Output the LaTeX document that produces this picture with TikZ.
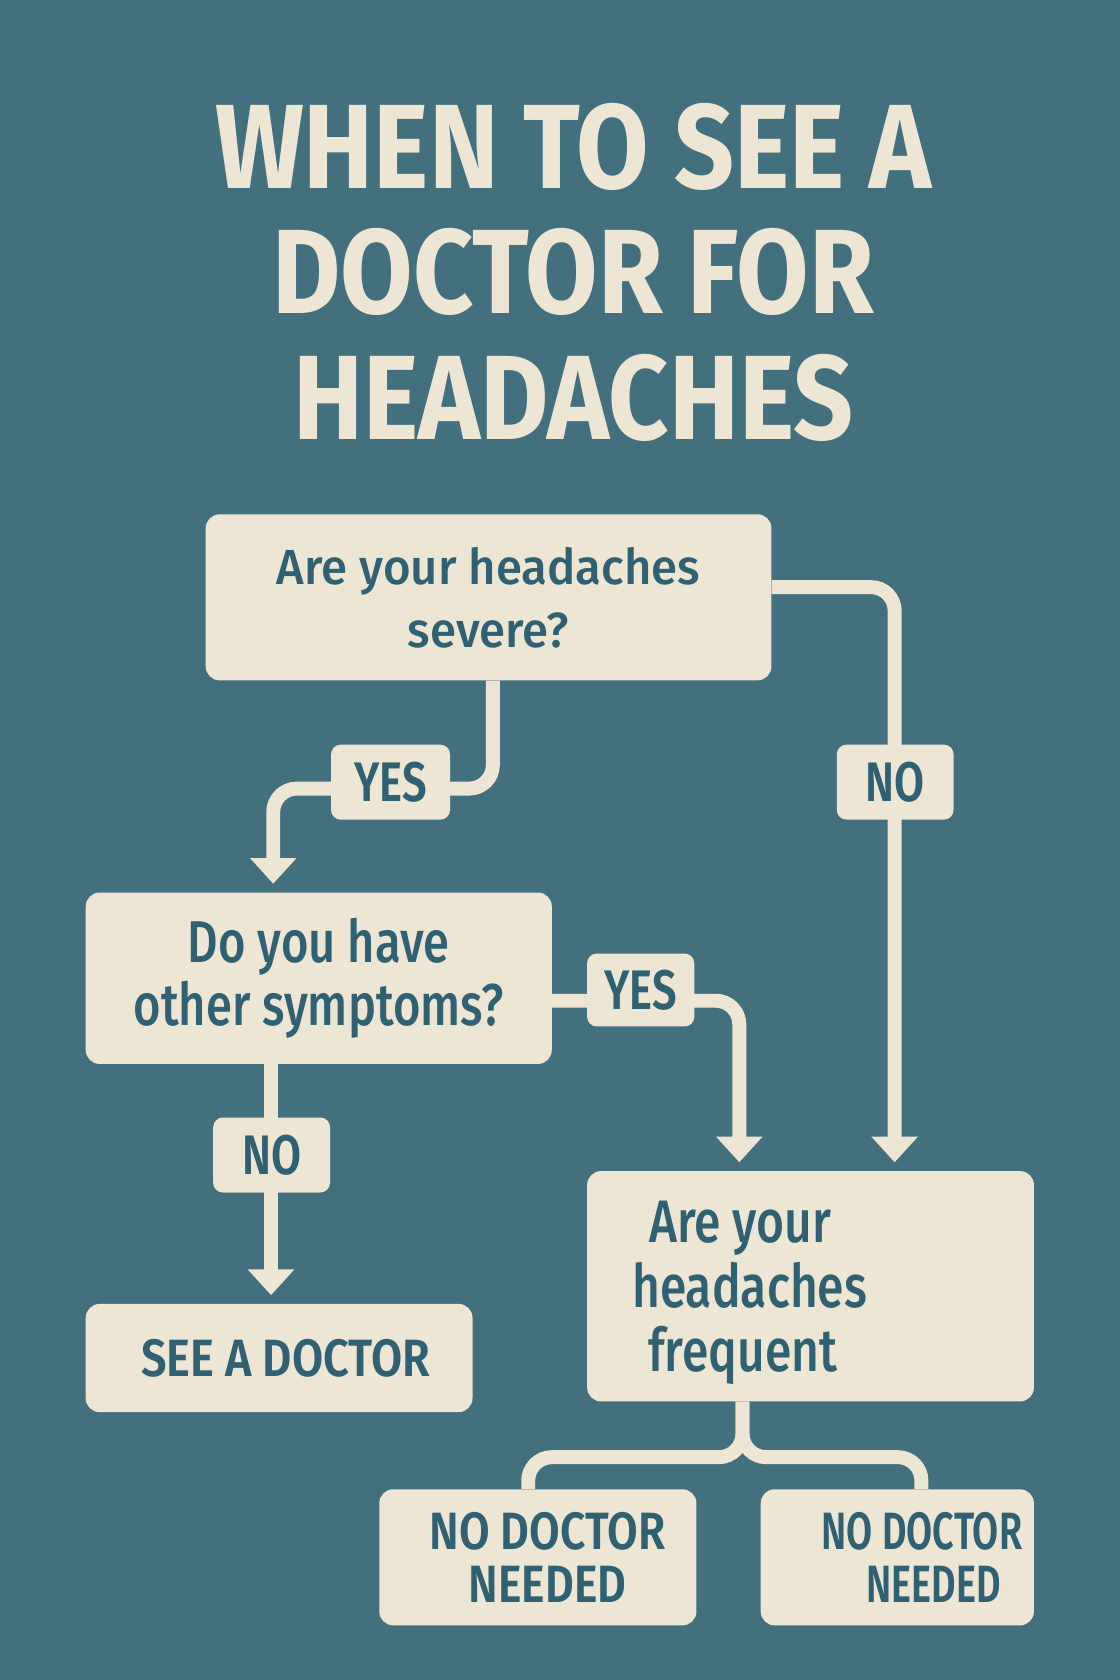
\documentclass[tikz,border=0pt]{standalone}
\usepackage{fontspec}
\usetikzlibrary{arrows.meta}
\setmainfont{Fira Sans}
\newfontfamily\titlef[FakeStretch=0.875]{Fira Sans Bold}
\newfontfamily\bodyaf[FakeStretch=0.96]{Fira Sans Medium}
\newfontfamily\bodyf[FakeStretch=0.80]{Fira Sans Medium}
\newfontfamily\labf[FakeStretch=0.78]{Fira Sans SemiBold}
\newfontfamily\seef[FakeStretch=0.86]{Fira Sans SemiBold}
\newfontfamily\ndaf[FakeStretch=0.845]{Fira Sans SemiBold}
\newfontfamily\ndbf[FakeStretch=0.72]{Fira Sans SemiBold}
\definecolor{bg}{HTML}{42707F}
\definecolor{cream}{HTML}{EEE6D4}
\definecolor{ink}{HTML}{2F6172}
\begin{document}
\begin{tikzpicture}[x=1pt,y=-1pt,
  box/.style={fill=cream, rounded corners=13pt, inner sep=0pt, text=ink, align=center},
  tag/.style={fill=cream, rounded corners=9pt, inner sep=0pt, text=ink,
    font=\labf\fontsize{52}{52}\selectfont},
  conn/.style={draw=cream, line width=13pt, rounded corners=22pt},
  arr/.style={-{Triangle[width=42pt,length=24pt]}}
]
\fill[bg] (0,0) rectangle (1045,1568);
\useasboundingbox (0,0) rectangle (1045,1568);

\node[text=cream, align=center, font=\titlef\fontsize{112}{117}\selectfont] (title) at (535,254)
  {WHEN TO SEE A\\DOCTOR FOR\\HEADACHES};

\node[box, minimum width=528pt, minimum height=155pt, text depth=-12pt,
  font=\bodyaf\fontsize{46}{59}\selectfont] (b1) at (456,557.5)
  {Are your headaches\\severe?};
\node[box, minimum width=435pt, minimum height=160pt,
  font=\bodyf\fontsize{55}{59}\selectfont] (b2) at (297.5,913)
  {Do you have\\other symptoms?};
\node[box, minimum width=417pt, minimum height=215pt, text width=333pt, inner xsep=42pt,
  align=left, text height=40pt, text depth=121pt,
  font=\bodyf\fontsize{56}{60}\selectfont] (b3) at (756.5,1200.5)
  {\hspace*{16pt}Are\hspace{11pt}your\\headaches\\\hspace*{15pt}frequent};
\node[box, minimum width=361pt, minimum height=101pt,
  font=\seef\fontsize{49}{49}\selectfont] (see) at (260.5,1267.5)
  {\hspace*{12pt}SEE A DOCTOR};
\node[box, minimum width=296pt, minimum height=127pt,
  font=\ndaf\fontsize{49}{49}\selectfont] (b4) at (502,1453.5)
  {\hspace*{18pt}NO DOCTOR\\\hspace*{18pt}NEEDED};
\node[box, minimum width=255pt, minimum height=127pt,
  font=\ndbf\fontsize{49}{49}\selectfont] (b5) at (837.5,1453.5)
  {\hspace*{46pt}NO DOCTOR\\\hspace*{68pt}NEEDED};

\coordinate (c1) at (255,736);
\coordinate (j) at (693,1360);

\draw[conn,arr] ([yshift=9.5pt]b1.east) -| ([xshift=78.5pt,yshift=8pt]b3.north);
\draw[conn,arr] ([xshift=4pt]b1.south) |- (c1) -- ([yshift=8pt]c1 |- b2.north);
\draw[conn,arr] ([yshift=-21pt]b2.east) -| ([xshift=-66.5pt,yshift=8pt]b3.north);
\draw[conn,arr] ([xshift=-44.5pt]b2.south) -- ([xshift=-7.5pt,yshift=8pt]see.north);
\draw[conn] ([xshift=-63.5pt]b3.south) -- (j) -| ([xshift=-9pt]b4.north);
\draw[conn] ([xshift=-63.5pt]b3.south) -- (j) -| ([xshift=22.5pt]b5.north);

\node[tag, minimum width=111pt, minimum height=70pt] (yes1) at (364.5,730) {YES};
\node[tag, minimum width=109pt, minimum height=70pt] (no1) at (835.5,730) {NO};
\node[tag, minimum width=100pt, minimum height=68pt] (yes2) at (598,924) {YES};
\node[tag, minimum width=109pt, minimum height=70pt] (no2) at (253.5,1078) {NO};
\end{tikzpicture}
\end{document}
